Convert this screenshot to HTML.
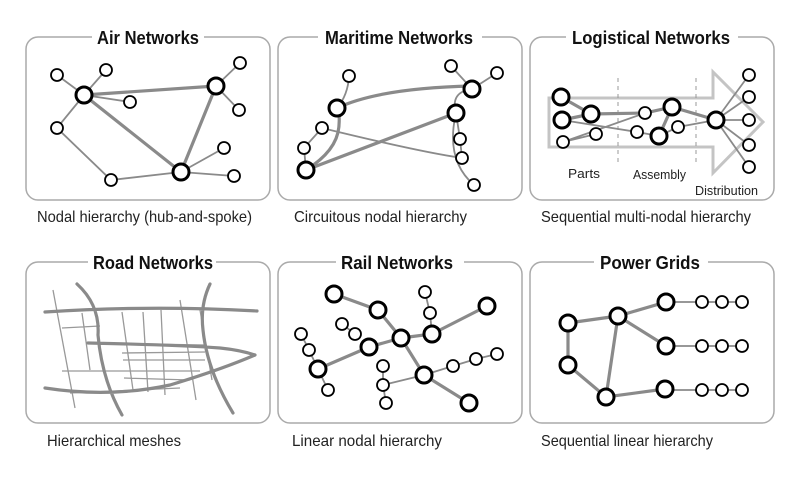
<!DOCTYPE html>
<html><head><meta charset="utf-8"><style>
html,body{margin:0;padding:0;background:#fff;width:800px;height:480px;overflow:hidden}
svg{display:block}
.box{fill:none;stroke:#aaa;stroke-width:1.5}
.t{font-family:"Liberation Sans",sans-serif;font-weight:bold;font-size:18.5px;fill:#111}
.c{font-family:"Liberation Sans",sans-serif;font-size:16px;fill:#222}
.s{font-family:"Liberation Sans",sans-serif;font-size:13px;fill:#222}
.e{stroke:#8a8a8a;stroke-width:3.2;fill:none;stroke-linecap:round}
.f{stroke:#8a8a8a;stroke-width:1.8;fill:none;stroke-linecap:round}
.B{fill:#fff;stroke:#000;stroke-width:3}
.n{fill:#fff;stroke:#000;stroke-width:1.8}
.tb{fill:#fff}
</style></head><body>
<svg width="800" height="480" viewBox="0 0 800 480">
<rect class="box" x="26" y="37" width="244" height="163" rx="12"/>
<rect class="box" x="278" y="37" width="244" height="163" rx="12"/>
<rect class="box" x="530" y="37" width="244" height="163" rx="12"/>
<rect class="box" x="26" y="262" width="244" height="161" rx="12"/>
<rect class="box" x="278" y="262" width="244" height="161" rx="12"/>
<rect class="box" x="530" y="262" width="244" height="161" rx="12"/>
<rect class="tb" x="92" y="28" width="112" height="18"/>
<rect class="tb" x="318" y="28" width="164" height="18"/>
<rect class="tb" x="566" y="28" width="172" height="18"/>
<rect class="tb" x="88" y="253" width="128" height="18"/>
<rect class="tb" x="336" y="253" width="128" height="18"/>
<rect class="tb" x="594" y="253" width="114" height="18"/>
<text class="t" x="97" y="44" textLength="102" lengthAdjust="spacingAndGlyphs">Air Networks</text>
<text class="t" x="325" y="44" textLength="148" lengthAdjust="spacingAndGlyphs">Maritime Networks</text>
<text class="t" x="572" y="44" textLength="158" lengthAdjust="spacingAndGlyphs">Logistical Networks</text>
<text class="t" x="93" y="269" textLength="120" lengthAdjust="spacingAndGlyphs">Road Networks</text>
<text class="t" x="341" y="269" textLength="112" lengthAdjust="spacingAndGlyphs">Rail Networks</text>
<text class="t" x="600" y="269" textLength="100" lengthAdjust="spacingAndGlyphs">Power Grids</text>
<text class="c" x="37" y="222" textLength="215" lengthAdjust="spacingAndGlyphs">Nodal hierarchy (hub-and-spoke)</text>
<text class="c" x="294" y="222" textLength="173" lengthAdjust="spacingAndGlyphs">Circuitous nodal hierarchy</text>
<text class="c" x="541" y="222" textLength="210" lengthAdjust="spacingAndGlyphs">Sequential multi-nodal hierarchy</text>
<text class="c" x="47" y="446" textLength="134" lengthAdjust="spacingAndGlyphs">Hierarchical meshes</text>
<text class="c" x="292" y="446" textLength="150" lengthAdjust="spacingAndGlyphs">Linear nodal hierarchy</text>
<text class="c" x="541" y="446" textLength="172" lengthAdjust="spacingAndGlyphs">Sequential linear hierarchy</text>

<g>
<path class="f" d="M84 95L57 75M84 95L106 70M84 95L130 102M84 95L57 128L111 180L181 172M216 86L240 63M216 86L239 110M181 172L224 148M181 172L234 176"/>
<path class="e" d="M84 95L216 86M84 95L181 172M216 86L181 172"/>
<circle class="B" cx="84" cy="95" r="8"/><circle class="B" cx="216" cy="86" r="8"/><circle class="B" cx="181" cy="172" r="8"/>
<circle class="n" cx="57" cy="75" r="6"/><circle class="n" cx="106" cy="70" r="6"/><circle class="n" cx="130" cy="102" r="6"/><circle class="n" cx="57" cy="128" r="6"/><circle class="n" cx="111" cy="180" r="6"/><circle class="n" cx="240" cy="63" r="6"/><circle class="n" cx="239" cy="110" r="6"/><circle class="n" cx="224" cy="148" r="6"/><circle class="n" cx="234" cy="176" r="6"/>
</g>

<g>
<path class="e" d="M337 108Q380 88 472 86M306 170L456 113M306 170Q338 150 339 125Q340 112 337 108"/>
<path class="f" d="M349 76Q348 95 337 108M306 170L304 148L322 128M322 128Q420 152 462 158M472 89L451 66M472 89L497 73M472 89Q450 92 456 113M456 113Q445 160 474 185M456 113L460 139L462 158"/>
<circle class="B" cx="337" cy="108" r="8"/><circle class="B" cx="306" cy="170" r="8"/><circle class="B" cx="472" cy="89" r="8"/><circle class="B" cx="456" cy="113" r="8"/>
<circle class="n" cx="349" cy="76" r="6"/><circle class="n" cx="322" cy="128" r="6"/><circle class="n" cx="304" cy="148" r="6"/><circle class="n" cx="451" cy="66" r="6"/><circle class="n" cx="497" cy="73" r="6"/><circle class="n" cx="460" cy="139" r="6"/><circle class="n" cx="462" cy="158" r="6"/><circle class="n" cx="474" cy="185" r="6"/>
</g>

<g>
<path d="M549 98H713V72L763 122L713 173V147H549Z" fill="none" stroke="#c4c4c4" stroke-width="3"/>
<path d="M618 78V165M696 78V165" stroke="#999" stroke-width="1" stroke-dasharray="4,4"/>
<path class="e" d="M561 97L591 114M562 120L591 114L645 113L672 107L716 120M659 136L672 107"/>
<path class="f" d="M562 120L637 132L659 136M563 142L645 113M563 142L596 134M678 127L716 120M659 136L678 127M716 120L749 75M716 120L749 97M716 120L749 120M716 120L749 145M716 120L749 167"/>
<circle class="B" cx="561" cy="97" r="8"/><circle class="B" cx="562" cy="120" r="8"/><circle class="B" cx="591" cy="114" r="8"/><circle class="B" cx="672" cy="107" r="8"/><circle class="B" cx="659" cy="136" r="8"/><circle class="B" cx="716" cy="120" r="8"/>
<circle class="n" cx="563" cy="142" r="6"/><circle class="n" cx="596" cy="134" r="6"/><circle class="n" cx="645" cy="113" r="6"/><circle class="n" cx="637" cy="132" r="6"/><circle class="n" cx="678" cy="127" r="6"/>
<circle class="n" cx="749" cy="75" r="6"/><circle class="n" cx="749" cy="97" r="6"/><circle class="n" cx="749" cy="120" r="6"/><circle class="n" cx="749" cy="145" r="6"/><circle class="n" cx="749" cy="167" r="6"/>
<text class="s" x="568" y="178" textLength="32" lengthAdjust="spacingAndGlyphs">Parts</text><text class="s" x="633" y="179" textLength="53" lengthAdjust="spacingAndGlyphs">Assembly</text><text class="s" x="695" y="195" textLength="63" lengthAdjust="spacingAndGlyphs">Distribution</text>
</g>

<g>
<path stroke="#999" stroke-width="1.3" fill="none" d="M53 290L75 408M82 313L90 370M62 328L100 326M122 312L133 390M143 312L148 392M161 310L165 395M180 300L196 400M200 310L212 380M62 371L200 371M70 393L180 388M86 343L205 345M122 353L205 352M123 360L205 360M124 378L190 380"/>
<path class="e" d="M45 312Q150 305 257 311M45 388Q110 398 170 385Q220 370 255 355M88 343Q180 345 220 348Q240 350 255 355M77 284Q100 305 98 335Q102 380 122 415M210 284Q200 305 203 330Q207 370 233 413"/>
</g>

<g>
<path class="f" d="M432 334L430 313L425 292M301 334L309 350L318 369L328 390M383 366L383 385L386 403M383 385L424 375L453 366L476 359L497 354M342 324L355 334"/>
<path class="e" d="M334 294L378 310L401 338L432 334L487 306M401 338L369 347L318 369M401 338L424 375L469 403"/>
<circle class="B" cx="334" cy="294" r="8"/><circle class="B" cx="378" cy="310" r="8"/><circle class="B" cx="401" cy="338" r="8"/><circle class="B" cx="432" cy="334" r="8"/><circle class="B" cx="487" cy="306" r="8"/><circle class="B" cx="369" cy="347" r="8"/><circle class="B" cx="318" cy="369" r="8"/><circle class="B" cx="424" cy="375" r="8"/><circle class="B" cx="469" cy="403" r="8"/>
<circle class="n" cx="425" cy="292" r="6"/><circle class="n" cx="430" cy="313" r="6"/><circle class="n" cx="342" cy="324" r="6"/><circle class="n" cx="355" cy="334" r="6"/><circle class="n" cx="301" cy="334" r="6"/><circle class="n" cx="309" cy="350" r="6"/><circle class="n" cx="328" cy="390" r="6"/><circle class="n" cx="383" cy="366" r="6"/><circle class="n" cx="383" cy="385" r="6"/><circle class="n" cx="386" cy="403" r="6"/><circle class="n" cx="453" cy="366" r="6"/><circle class="n" cx="476" cy="359" r="6"/><circle class="n" cx="497" cy="354" r="6"/>
</g>

<g>
<path class="f" d="M666 302H742M666 346H742M665 390H742"/>
<path class="e" d="M568 323L618 316L666 302M618 316L666 346M618 316L606 397M568 323L568 365L606 397L665 389"/>
<circle class="B" cx="568" cy="323" r="8"/><circle class="B" cx="618" cy="316" r="8"/><circle class="B" cx="666" cy="302" r="8"/><circle class="B" cx="666" cy="346" r="8"/><circle class="B" cx="568" cy="365" r="8"/><circle class="B" cx="606" cy="397" r="8"/><circle class="B" cx="665" cy="389" r="8"/>
<circle class="n" cx="702" cy="302" r="6"/><circle class="n" cx="722" cy="302" r="6"/><circle class="n" cx="742" cy="302" r="6"/>
<circle class="n" cx="702" cy="346" r="6"/><circle class="n" cx="722" cy="346" r="6"/><circle class="n" cx="742" cy="346" r="6"/>
<circle class="n" cx="702" cy="390" r="6"/><circle class="n" cx="722" cy="390" r="6"/><circle class="n" cx="742" cy="390" r="6"/>
</g>
</svg>
</body></html>
